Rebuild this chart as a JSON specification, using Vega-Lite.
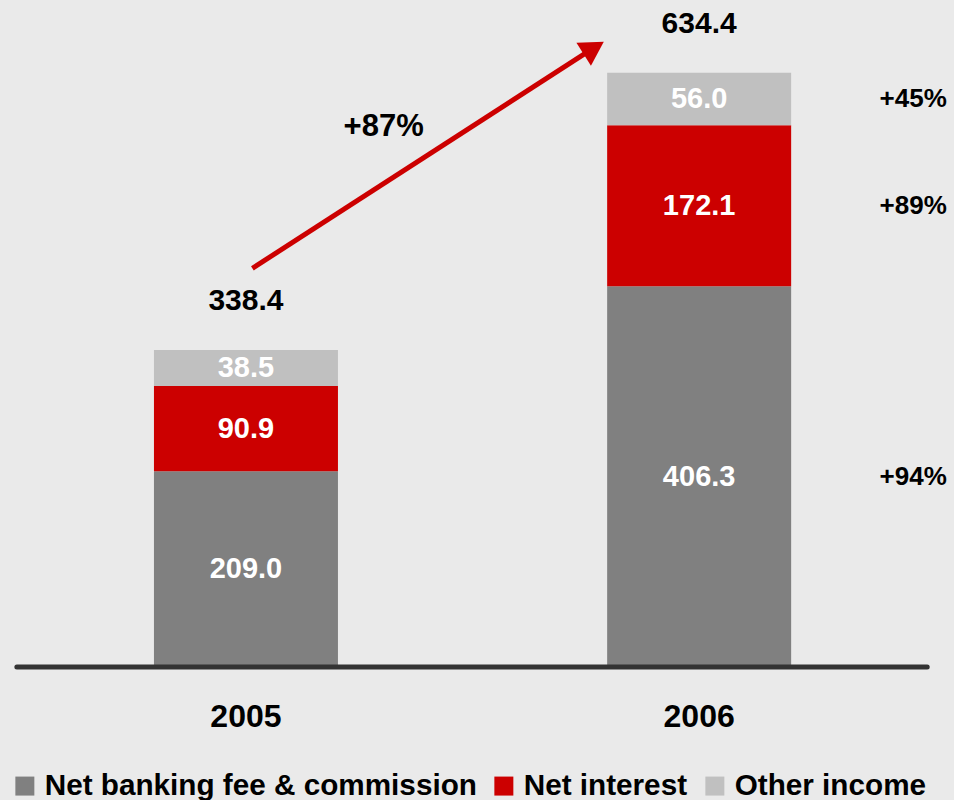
{
  "$schema": "https://vega.github.io/schema/vega-lite/v6.json",
  "width": 954,
  "height": 800,
  "padding": 0,
  "autosize": {"type": "none"},
  "background": "#EAEAEA",
  "config": {"view": {"stroke": null}, "font": "Liberation Sans"},
  "datasets": {
    "income": [
      {"year": 2005, "category": "Net banking fee & commission", "k": 1, "value": 209.0, "growth": ""},
      {"year": 2005, "category": "Net interest", "k": 2, "value": 90.9, "growth": ""},
      {"year": 2005, "category": "Other income", "k": 3, "value": 38.5, "growth": ""},
      {"year": 2006, "category": "Net banking fee & commission", "k": 1, "value": 406.3, "growth": "+94%"},
      {"year": 2006, "category": "Net interest", "k": 2, "value": 172.1, "growth": "+89%"},
      {"year": 2006, "category": "Other income", "k": 3, "value": 56.0, "growth": "+45%"}
    ],
    "totals": [
      {"year": 2005, "total": 338.4},
      {"year": 2006, "total": 634.4}
    ],
    "arrow": [
      {"x0": 2005.0142, "y0": 425.6, "x1": 2005.7674, "y1": 660.8, "label": "+87%", "lx": 2005.3039, "ly": 576.8}
    ],
    "baseline": [
      {"a": 2004.4945, "b": 2006.5032, "level": 0}
    ]
  },
  "layer": [
    {
      "data": {"name": "income"},
      "transform": [
        {"stack": "value", "groupby": ["year"], "sort": [{"field": "k", "order": "ascending"}], "as": ["v0", "v1"]}
      ],
      "mark": {"type": "bar", "size": 184},
      "encoding": {
        "x": {"field": "year", "type": "quantitative", "axis": null, "scale": {"domain": [2004.4683, 2006.5513], "nice": false, "zero": false}},
        "y": {"field": "v1", "type": "quantitative", "axis": null, "scale": {"domain": [-142, 712], "nice": false, "zero": false}},
        "y2": {"field": "v0"},
        "color": {
          "field": "category",
          "type": "nominal",
          "scale": {"domain": ["Net banking fee & commission", "Net interest", "Other income"], "range": ["#808080", "#CC0000", "#C0C0C0"]},
          "legend": {
            "orient": "none",
            "legendX": 10,
            "legendY": 771,
            "direction": "horizontal",
            "title": null,
            "symbolType": "square",
            "symbolSize": 361,
            "symbolStrokeWidth": 0,
            "symbolOpacity": 1,
            "labelFont": "Liberation Sans",
            "labelFontSize": 29.7,
            "labelFontWeight": "bold",
            "labelColor": "#000000",
            "labelOffset": 5,
            "labelLimit": 1000,
            "columnPadding": 12,
            "padding": 0
          }
        }
      }
    },
    {
      "data": {"name": "income"},
      "transform": [
        {"stack": "value", "groupby": ["year"], "sort": [{"field": "k", "order": "ascending"}], "as": ["v0", "v1"]},
        {"calculate": "(datum.v0 + datum.v1) / 2", "as": "mid"}
      ],
      "mark": {"type": "text", "color": "#FFFFFF", "fontSize": 29, "fontWeight": "bold", "baseline": "middle", "align": "center"},
      "encoding": {
        "x": {"field": "year", "type": "quantitative", "scale": {"domain": [2004.4683, 2006.5513], "nice": false, "zero": false}},
        "y": {"field": "mid", "type": "quantitative", "scale": {"domain": [-142, 712], "nice": false, "zero": false}},
        "text": {"field": "value", "type": "quantitative", "format": ".1f"}
      }
    },
    {
      "data": {"name": "income"},
      "transform": [
        {"stack": "value", "groupby": ["year"], "sort": [{"field": "k", "order": "ascending"}], "as": ["v0", "v1"]},
        {"calculate": "(datum.v0 + datum.v1) / 2", "as": "mid"},
        {"filter": "datum.year == 2006"}
      ],
      "mark": {"type": "text", "color": "#000000", "fontSize": 26, "fontWeight": "bold", "baseline": "middle", "align": "center", "dx": 214},
      "encoding": {
        "x": {"field": "year", "type": "quantitative", "scale": {"domain": [2004.4683, 2006.5513], "nice": false, "zero": false}},
        "y": {"field": "mid", "type": "quantitative", "scale": {"domain": [-142, 712], "nice": false, "zero": false}},
        "text": {"field": "growth", "type": "nominal"}
      }
    },
    {
      "data": {"name": "totals"},
      "mark": {"type": "text", "color": "#000000", "fontSize": 30, "fontWeight": "bold", "baseline": "middle", "align": "center", "dy": -49},
      "encoding": {
        "x": {"field": "year", "type": "quantitative", "scale": {"domain": [2004.4683, 2006.5513], "nice": false, "zero": false}},
        "y": {"field": "total", "type": "quantitative", "scale": {"domain": [-142, 712], "nice": false, "zero": false}},
        "text": {"field": "total", "type": "quantitative", "format": ".1f"}
      }
    },
    {
      "data": {"name": "totals"},
      "mark": {"type": "text", "color": "#000000", "fontSize": 32, "fontWeight": "bold", "baseline": "middle", "align": "center", "dy": 50},
      "encoding": {
        "x": {"field": "year", "type": "quantitative", "scale": {"domain": [2004.4683, 2006.5513], "nice": false, "zero": false}},
        "y": {"datum": 0, "type": "quantitative", "scale": {"domain": [-142, 712], "nice": false, "zero": false}},
        "text": {"field": "year", "type": "nominal"}
      }
    },
    {
      "data": {"name": "baseline"},
      "mark": {"type": "rule", "color": "#333333", "strokeWidth": 5, "strokeCap": "round"},
      "encoding": {
        "x": {"field": "a", "type": "quantitative", "scale": {"domain": [2004.4683, 2006.5513], "nice": false, "zero": false}},
        "x2": {"field": "b"},
        "y": {"field": "level", "type": "quantitative", "scale": {"domain": [-142, 712], "nice": false, "zero": false}}
      }
    },
    {
      "data": {"name": "arrow"},
      "mark": {"type": "rule", "color": "#CC0000", "strokeWidth": 5},
      "encoding": {
        "x": {"field": "x0", "type": "quantitative", "scale": {"domain": [2004.4683, 2006.5513], "nice": false, "zero": false}},
        "x2": {"field": "x1"},
        "y": {"field": "y0", "type": "quantitative", "scale": {"domain": [-142, 712], "nice": false, "zero": false}},
        "y2": {"field": "y1"}
      }
    },
    {
      "data": {"name": "arrow"},
      "mark": {"type": "point", "shape": "triangle-up", "filled": true, "color": "#CC0000", "opacity": 1, "size": 750, "angle": 58, "strokeWidth": 0},
      "encoding": {
        "x": {"field": "x1", "type": "quantitative", "scale": {"domain": [2004.4683, 2006.5513], "nice": false, "zero": false}},
        "y": {"field": "y1", "type": "quantitative", "scale": {"domain": [-142, 712], "nice": false, "zero": false}}
      }
    },
    {
      "data": {"name": "arrow"},
      "mark": {"type": "text", "color": "#000000", "fontSize": 31, "fontWeight": "bold", "baseline": "middle", "align": "center"},
      "encoding": {
        "x": {"field": "lx", "type": "quantitative", "scale": {"domain": [2004.4683, 2006.5513], "nice": false, "zero": false}},
        "y": {"field": "ly", "type": "quantitative", "scale": {"domain": [-142, 712], "nice": false, "zero": false}},
        "text": {"field": "label", "type": "nominal"}
      }
    }
  ]
}
